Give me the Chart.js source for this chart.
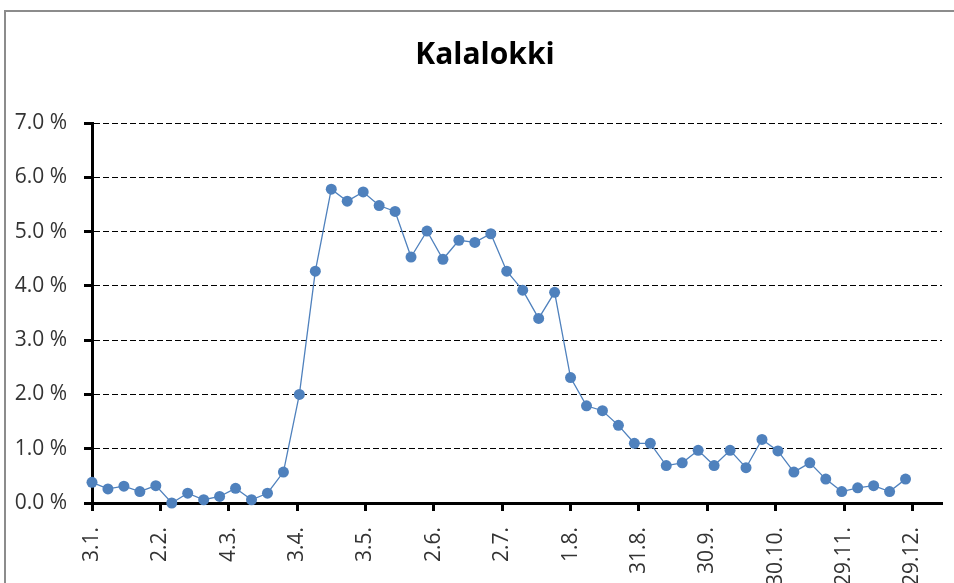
<!DOCTYPE html>
<html>
<head>
<meta charset="utf-8">
<script src="https://cdn.jsdelivr.net/npm/chart.js@4"></script>
<style>
  html, body { margin: 0; padding: 0; background: #fff; overflow: hidden; }
  #frame {
    position: absolute; left: 4px; top: 10px; width: 960px; height: 580px;
    border-top: 2px solid #8c8c8c; border-left: 2px solid #8c8c8c;
  }
  #wrap { position: absolute; left: 0; top: 0; width: 954px; height: 583px; }
</style>
</head>
<body>
<div id="frame"></div>
<div id="wrap"><canvas id="chart" width="954" height="583"></canvas></div>
<script>
// ================= DATA =================
const chartTitle = "Kalalokki";

// weekly observation dates (d.m.)
const dates = [
  "3.1.", "10.1.", "17.1.", "24.1.", "31.1.",
  "7.2.", "14.2.", "21.2.", "28.2.",
  "7.3.", "14.3.", "21.3.", "28.3.",
  "4.4.", "11.4.", "18.4.", "25.4.",
  "2.5.", "9.5.", "16.5.", "23.5.", "30.5.",
  "6.6.", "13.6.", "20.6.", "27.6.",
  "4.7.", "11.7.", "18.7.", "25.7.",
  "1.8.", "8.8.", "15.8.", "22.8.", "29.8.",
  "5.9.", "12.9.", "19.9.", "26.9.",
  "3.10.", "10.10.", "17.10.", "24.10.", "31.10.",
  "7.11.", "14.11.", "21.11.", "28.11.",
  "5.12.", "12.12.", "19.12.", "26.12."
];

// share in percent
const shares = [
  0.38, 0.26, 0.31, 0.21, 0.32, 0.00, 0.18, 0.06, 0.12, 0.27, 0.06, 0.18, 0.57,
  2.00, 4.27, 5.78, 5.56, 5.73, 5.48, 5.37, 4.53, 5.01, 4.49, 4.84, 4.80, 4.96,
  4.27, 3.92, 3.40, 3.88, 2.31, 1.79, 1.70, 1.43, 1.10, 1.10, 0.69, 0.74, 0.97,
  0.69, 0.97, 0.65, 1.17, 0.96, 0.57, 0.74, 0.44, 0.21, 0.28, 0.32, 0.21, 0.44
];

// x-axis tick labels (every 30 days)
const tickLabels = [
  "3.1.", "2.2.", "4.3.", "3.4.", "3.5.", "2.6.", "2.7.",
  "1.8.", "31.8.", "30.9.", "30.10.", "29.11.", "29.12."
];

const yMin = 0;
const yMax = 7;
const xMin = "3.1.";
const xEndDay = 376;

// ================= HELPERS =================
const monthStart = [0, 31, 59, 90, 120, 151, 181, 212, 243, 273, 304, 334];

function dayOfYear(s) {
  const parts = s.split(".");
  return monthStart[parseInt(parts[1], 10) - 1] + parseInt(parts[0], 10);
}

const points = dates.map((d, i) => ({ x: dayOfYear(d), y: shares[i] }));
const tickDays = tickLabels.map(dayOfYear);

const FONT = "'Open Sans', 'Liberation Sans', sans-serif";
const BLUE = "#4f81bd";

// title is drawn by hand so it can sit over the whole (wider) chart frame
const titlePlugin = {
  id: "frameTitle",
  afterDraw(chart) {
    const tb = chart.titleBlock;
    const ctx = chart.ctx;
    ctx.save();
    ctx.font = "bold 30px " + FONT;
    ctx.fillStyle = "#000";
    ctx.textAlign = "center";
    ctx.textBaseline = "middle";
    ctx.fillText(chartTitle, (tb.left + tb.right) / 2 + 12, tb.top + 37 + 18);
    ctx.restore();
  }
};

// ================= CHART =================
new Chart(document.getElementById("chart"), {
  type: "line",
  data: {
    datasets: [{
      label: chartTitle,
      data: points,
      borderColor: BLUE,
      borderWidth: 1.3,
      backgroundColor: BLUE,
      pointBackgroundColor: BLUE,
      pointBorderColor: BLUE,
      pointRadius: 5.5,
      pointBorderWidth: 0,
      tension: 0,
      clip: false
    }]
  },
  options: {
    responsive: false,
    animation: false,
    layout: { padding: { left: 4, right: 12, top: 0, bottom: 0 } },
    plugins: {
      legend: { display: false },
      tooltip: { enabled: false },
      title: {
        display: true,
        text: chartTitle,
        color: "rgba(0,0,0,0)",
        font: { family: FONT, size: 30, weight: "bold" },
        padding: { top: 37, bottom: 50 }
      }
    },
    scales: {
      x: {
        type: "linear",
        min: dayOfYear(xMin),
        max: xEndDay,
        afterBuildTicks: (scale) => {
          scale.ticks = tickDays.map(v => ({ value: v }));
        },
        afterFit: (scale) => { scale.height = 80; },
        ticks: {
          autoSkip: false,
          minRotation: 90,
          maxRotation: 90,
          padding: 16,
          color: "#333",
          font: { family: FONT, size: 21 },
          callback: (v) => {
            const i = tickDays.indexOf(v);
            return i >= 0 ? tickLabels[i] : "";
          }
        },
        grid: {
          drawOnChartArea: false,
          drawTicks: true,
          tickLength: 8,
          tickWidth: 3,
          tickColor: "#000"
        },
        border: { display: true, color: "#000", width: 3 }
      },
      y: {
        min: yMin,
        max: yMax,
        afterFit: (scale) => { scale.width = 88; },
        ticks: {
          stepSize: 1,
          padding: 17,
          color: "#333",
          font: { family: FONT, size: 21 },
          callback: (v) => v.toFixed(1) + " %"
        },
        grid: {
          color: "#000",
          lineWidth: 1,
          drawTicks: true,
          tickLength: 8,
          tickWidth: 3,
          tickColor: "#000"
        },
        border: { display: true, color: "#000", width: 3, dash: [6, 3] }
      }
    }
  },
  plugins: [titlePlugin]
});
</script>
</body>
</html>
